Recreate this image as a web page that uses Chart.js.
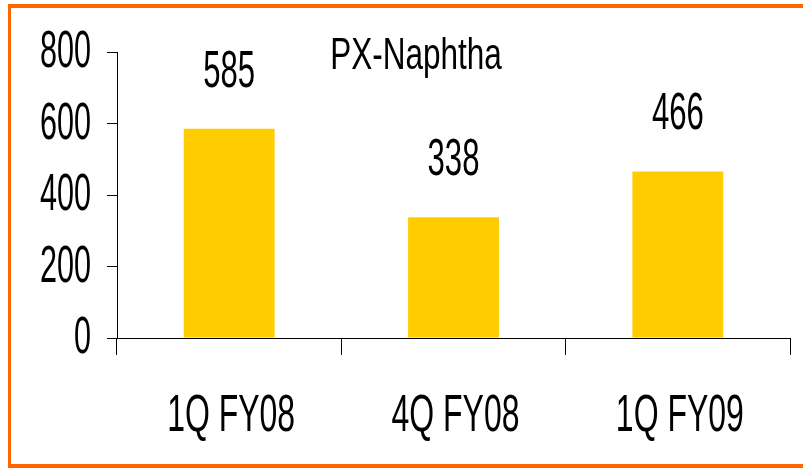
<!DOCTYPE html>
<html>
<head>
<meta charset="utf-8">
<script src="https://cdn.jsdelivr.net/npm/chart.js@4.4.1/dist/chart.umd.min.js"></script>
<style>
  html, body { margin: 0; padding: 0; background: #fff; }
  canvas { display: block; }
</style>
</head>
<body>
<canvas id="chart" width="803" height="468"></canvas>
<script>
// Quarterly PX-Naphtha spread
const chartTitle = 'PX-Naphtha';
const categories = ['1Q FY08', '4Q FY08', '1Q FY09'];
const pxNaphtha = [585, 338, 466];
const yMin = 0;
const yMax = 800;
const yStep = 200;

const FONT = '"Liberation Sans", Arial, sans-serif';

// White page with the orange frame around it
const framePlugin = {
  id: 'frame',
  beforeDraw(chart) {
    const ctx = chart.ctx;
    const w = chart.width, h = chart.height;
    ctx.save();
    ctx.fillStyle = '#ffffff';
    ctx.fillRect(0, 0, w, h);
    ctx.fillStyle = '#ff6600';
    ctx.fillRect(8, 4, w - 8, 4);      // top
    ctx.fillRect(8, 4, 3, h - 4);      // left
    ctx.fillRect(8, h - 4, w - 8, 4);  // bottom
    ctx.restore();
  }
};

// Condensed text: axis labels, value labels and the title
const textPlugin = {
  id: 'condensedText',
  afterDraw(chart) {
    const ctx = chart.ctx;
    const xs = chart.scales.x;
    const ys = chart.scales.y;
    const put = (text, cx, baseline, size, sx, align) => {
      ctx.save();
      ctx.font = size + 'px ' + FONT;
      ctx.fillStyle = '#000000';
      ctx.textBaseline = 'alphabetic';
      ctx.textAlign = align;
      ctx.translate(cx, baseline);
      ctx.scale(sx, 1);
      ctx.fillText(text, 0, 0);
      ctx.restore();
    };
    ys.ticks.forEach(t => {
      const label = t.label != null ? String(t.label) : String(t.value);
      put(label, ys.right - 26, ys.getPixelForValue(t.value) + 15, 51, 0.60, 'right');
    });
    categories.forEach((c, i) => {
      put(c, xs.getPixelForValue(i) + 2, ys.bottom + 93, 51, 0.627, 'center');
    });
    const meta = chart.getDatasetMeta(0);
    meta.data.forEach((bar, i) => {
      put(String(pxNaphtha[i]), bar.x, bar.y - 42, 51, 0.61, 'center');
    });
    put(chartTitle, 416, 69, 45, 0.70, 'center');
  }
};

new Chart(document.getElementById('chart'), {
  type: 'bar',
  data: {
    labels: categories,
    datasets: [{
      label: chartTitle,
      data: pxNaphtha,
      backgroundColor: '#ffcc00',
      borderWidth: 0,
      categoryPercentage: 1.0,
      barPercentage: 0.405
    }]
  },
  options: {
    responsive: false,
    devicePixelRatio: 1,
    animation: false,
    layout: { padding: { left: 107, right: 13, top: 52, bottom: 113 } },
    plugins: {
      legend: { display: false },
      title: { display: false },
      tooltip: { enabled: false }
    },
    scales: {
      x: {
        offset: true,
        grid: {
          offset: true,
          drawOnChartArea: false,
          drawTicks: true,
          tickLength: 17,
          color: '#000000',
          lineWidth: 1
        },
        border: { display: true, color: '#000000', width: 1 },
        ticks: { display: false }
      },
      y: {
        min: yMin,
        max: yMax,
        grid: {
          drawOnChartArea: false,
          drawTicks: true,
          tickLength: 10,
          color: '#000000',
          lineWidth: 1
        },
        border: { display: true, color: '#000000', width: 1 },
        ticks: { display: false, stepSize: yStep }
      }
    }
  },
  plugins: [framePlugin, textPlugin]
});
</script>
</body>
</html>
